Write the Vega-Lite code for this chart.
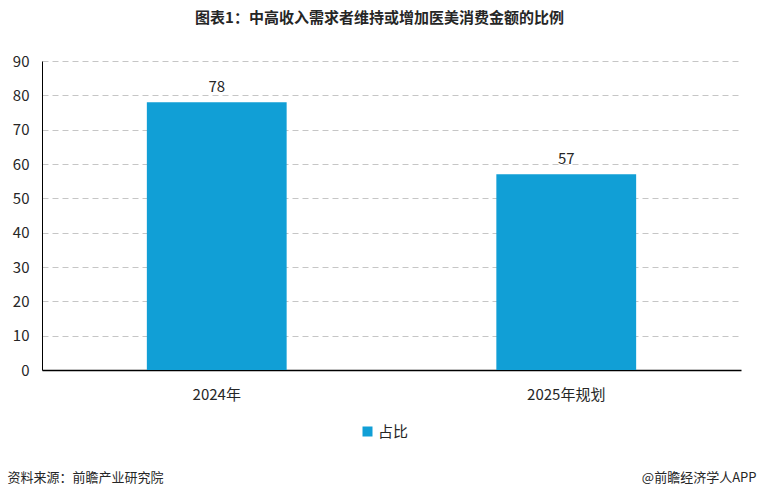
{
  "$schema": "https://vega.github.io/schema/vega-lite/v6.json",
  "autosize": "none",
  "width": 699,
  "height": 309,
  "padding": {"left": 42, "top": 61, "right": 19, "bottom": 128},
  "background": "white",
  "title": {
    "text": "图表1：中高收入需求者维持或增加医美消费金额的比例",
    "font": "Noto Sans CJK SC",
    "fontSize": 15,
    "fontWeight": "bold",
    "color": "#262626",
    "anchor": "middle",
    "dx": -12,
    "offset": 28
  },
  "data": {
    "values": [
      {"year": "2024年", "series": "占比", "value": 78},
      {"year": "2025年规划", "series": "占比", "value": 57}
    ]
  },
  "encoding": {
    "x": {
      "field": "year",
      "type": "nominal",
      "sort": null,
      "scale": {"paddingInner": 0.6, "paddingOuter": 0.3},
      "axis": {
        "title": "资料来源：前瞻产业研究院",
        "titleFont": "Noto Sans CJK SC",
        "titleFontSize": 13,
        "titleFontWeight": "normal",
        "titleColor": "#262626",
        "titleAnchor": "start",
        "titleAlign": "left",
        "titleBaseline": "middle",
        "titleX": -35,
        "titleY": 107,
        "labelAngle": 0,
        "labelFont": "Noto Sans CJK SC",
        "labelFontSize": 15,
        "labelColor": "#262626",
        "labelPadding": 17,
        "ticks": false,
        "domainColor": "#000000",
        "domainWidth": 1.5
      }
    },
    "y": {
      "field": "value",
      "type": "quantitative",
      "scale": {"domain": [0, 90]},
      "axis": {
        "title": "@前瞻经济学人APP",
        "titleFont": "Noto Sans CJK SC",
        "titleFontSize": 13,
        "titleFontWeight": "normal",
        "titleColor": "#262626",
        "titleAngle": 0,
        "titleAlign": "right",
        "titleBaseline": "middle",
        "titleX": 714,
        "titleY": 416,
        "values": [0, 10, 20, 30, 40, 50, 60, 70, 80, 90],
        "labelFont": "Noto Sans CJK SC",
        "labelFontSize": 15,
        "labelColor": "#262626",
        "labelPadding": 13,
        "ticks": false,
        "domainColor": "#000000",
        "domainWidth": 1,
        "grid": true,
        "gridColor": "#c6c6c6",
        "gridDash": [6, 4],
        "gridWidth": 1
      }
    }
  },
  "layer": [
    {
      "mark": {"type": "bar"},
      "encoding": {
        "color": {
          "field": "series",
          "type": "nominal",
          "scale": {"range": ["#119FD6"]},
          "legend": {
            "title": null,
            "orient": "none",
            "legendX": 318,
            "legendY": 363,
            "symbolType": "square",
            "symbolSize": 100,
            "symbolStrokeWidth": 0,
            "labelFont": "Noto Sans CJK SC",
            "labelFontSize": 15,
            "labelColor": "#262626",
            "labelOffset": 3
          }
        }
      }
    },
    {
      "mark": {
        "type": "text",
        "dy": -15,
        "font": "Noto Sans CJK SC",
        "fontSize": 15,
        "color": "#262626"
      },
      "encoding": {
        "text": {"field": "value", "type": "quantitative"}
      }
    }
  ],
  "config": {
    "view": {"stroke": null}
  }
}
